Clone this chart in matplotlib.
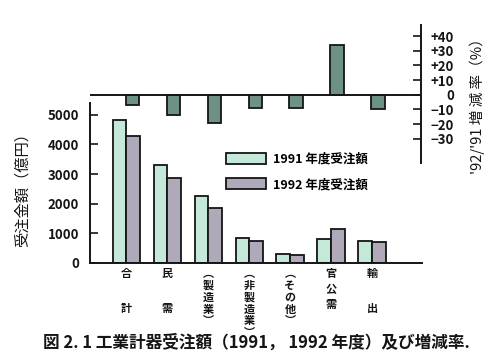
import matplotlib
matplotlib.use("Agg")
import matplotlib.pyplot as plt
import numpy as np

plt.rcParams['font.family'] = ['Noto Sans CJK JP', 'DejaVu Sans']
plt.rcParams['font.weight'] = 'bold'

# data
categories = ["合\n\n計", "民\n\n需", "︵\n製\n造\n業\n︶", "︵\n非\n製\n造\n業\n︶",
              "︵\nそ\nの\n他\n︶", "官\n公\n需", "輸\n\n出"]
orders_1991 = [4810, 3310, 2260, 830, 290, 800, 750]   # 億円
orders_1992 = [4270, 2860, 1850, 740, 280, 1150, 710]  # 億円
change_rate = [-7, -14, -19, -9, -9, 34, -10]          # %
rate_ticks = [40, 30, 20, 10, 0, -10, -20, -30]
rate_ticklabels = ["+40", "+30", "+20", "+10", "0", "−10", "−20", "−30"]
left_ticks = [0, 1000, 2000, 3000, 4000, 5000]

c91 = "#c4e9d9"
c92 = "#b0a9b9"
crate = "#6e9186"
ink = "#151515"

fig = plt.figure(figsize=(5.04, 3.63), dpi=100)
W, H = 504, 363

# bottom chart: order amounts
ax = fig.add_axes([90 / W, (H - 263) / H, (422 - 90) / W, (263 - 103) / H])
x = np.arange(len(categories))
w = 0.33
b1 = ax.bar(x - w / 2, orders_1991, w, color=c91, edgecolor=ink, linewidth=1.3, label="1991 年度受注額")
b2 = ax.bar(x + w / 2, orders_1992, w, color=c92, edgecolor=ink, linewidth=1.3, label="1992 年度受注額")
ax.set_xlim(-0.88, 7.22)
ax.set_ylim(0, 5400)
ax.set_yticks(left_ticks)
ax.set_xticks(x)
ax.set_xticklabels(categories, fontsize=8, va='top')
for lab in ax.get_xticklabels():
    t = lab.get_text()
    if "︵" in t:
        lab.set_linespacing(0.88)
    elif "\n\n" in t:
        lab.set_linespacing(1.45)
    else:
        lab.set_linespacing(1.25)
ax.tick_params(axis='x', length=0, pad=3, colors=ink)
ax.tick_params(axis='y', direction='in', length=6, width=1.2, labelsize=9.5, pad=8, colors=ink)
for s in ['top', 'right']:
    ax.spines[s].set_visible(False)
for s in ['left', 'bottom']:
    ax.spines[s].set_linewidth(1.4)
    ax.spines[s].set_color(ink)
ax.set_ylabel("受注金額（億円）", fontsize=11, color=ink)
ax.yaxis.set_label_coords(-0.18, 0.48)
ax.patch.set_alpha(0)
ax.legend(handles=[b1, b2], loc='upper left', bbox_to_anchor=(0.375, 0.76), frameon=False,
          fontsize=9, handlelength=3.2, handleheight=1.0, labelspacing=1.0, handletextpad=0.6)

# top chart: change rate
ax2 = fig.add_axes([90 / W, (H - 163) / H, (421 - 90) / W, (163 - 25) / H])
ax2.bar(x + w / 2, change_rate, w, color=crate, edgecolor=ink, linewidth=1.3)
ax2.axhline(0, color=ink, linewidth=1.4)
ax2.set_xlim(-0.88, 7.22)
ax2.set_ylim(-46.5, 47.5)
ax2.yaxis.tick_right()
ax2.yaxis.set_label_position('right')
ax2.set_yticks(rate_ticks)
ax2.set_yticklabels(rate_ticklabels, ha='right')
ax2.tick_params(axis='y', direction='in', length=6, width=1.2, labelsize=9.5, pad=24, colors=ink)
ax2.set_xticks([])
for s in ['top', 'left', 'bottom']:
    ax2.spines[s].set_visible(False)
ax2.spines['right'].set_linewidth(1.4)
ax2.spines['right'].set_color(ink)
ax2.set_ylabel("'92/'91 増 減 率（%）", fontsize=10.5, rotation=90, color=ink)
ax2.yaxis.set_label_coords(1.148, 0.44)
ax2.patch.set_alpha(0)

fig.text(256 / W, 1 - 343 / H, "図 2. 1 工業計器受注額（1991， 1992 年度）及び増減率.",
         ha='center', va='center', fontsize=12, color=ink)

fig.savefig("out.png", dpi=100)
